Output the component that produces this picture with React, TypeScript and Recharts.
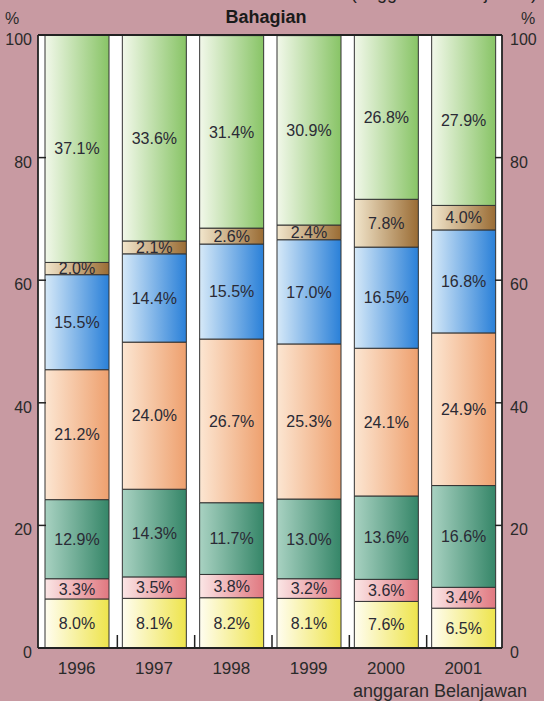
import React from 'react';
import { BarChart, Bar, XAxis, YAxis, LabelList, CartesianGrid, ReferenceLine } from 'recharts';

const years = ['1996', '1997', '1998', '1999', '2000', '2001'];
const yellowSeg = [8.0, 8.1, 8.2, 8.1, 7.6, 6.5];
const pinkSeg = [3.3, 3.5, 3.8, 3.2, 3.6, 3.4];
const tealSeg = [12.9, 14.3, 11.7, 13.0, 13.6, 16.6];
const peachSeg = [21.2, 24.0, 26.7, 25.3, 24.1, 24.9];
const blueSeg = [15.5, 14.4, 15.5, 17.0, 16.5, 16.8];
const brownSeg = [2.0, 2.1, 2.6, 2.4, 7.8, 4.0];
const greenSeg = [37.1, 33.6, 31.4, 30.9, 26.8, 27.9];
const yTicks = [0, 20, 40, 60, 80, 100];

const series = [
  { key: 's1', values: yellowSeg, light: '#fffdf0', dark: '#eee44c' },
  { key: 's2', values: pinkSeg, light: '#fbe6e6', dark: '#e07880' },
  { key: 's3', values: tealSeg, light: '#a9d2c2', dark: '#358668' },
  { key: 's4', values: peachSeg, light: '#fce6d2', dark: '#eea06e' },
  { key: 's5', values: blueSeg, light: '#d6e9f8', dark: '#2a80d8' },
  { key: 's6', values: brownSeg, light: '#f2e6cc', dark: '#9a6c34' },
  { key: 's7', values: greenSeg, light: '#f2f8ea', dark: '#88c466' },
];

const data = years.map((y, i) => {
  const row: any = { year: y };
  series.forEach((s) => { row[s.key] = s.values[i]; });
  return row;
});

const BG = '#c89aa2';
const INK = '#222';
const FONT = '"Liberation Sans", Arial, Helvetica, sans-serif';

const LeftTick = (props: any) => {
  const { x, y, payload } = props;
  const v = payload.value;
  return (
    <g>
      {v > 0 && v < 100 && <line x1={x} y1={y} x2={x + 8} y2={y} stroke={INK} strokeWidth={1.5} />}
      <text x={x - 6} y={y + 10} textAnchor="end" fontSize={16} fill="#2a2a2a" fontFamily={FONT}>{v}</text>
    </g>
  );
};

const RightTick = (props: any) => {
  const { x, y, payload } = props;
  const v = payload.value;
  return (
    <g>
      {v > 0 && v < 100 && <line x1={x - 7} y1={y} x2={x} y2={y} stroke={INK} strokeWidth={1.5} />}
      <text x={x + 8} y={y + 10} textAnchor="start" fontSize={16} fill="#2a2a2a" fontFamily={FONT}>{v}</text>
    </g>
  );
};

const XTick = (props: any) => {
  const { x, y, payload, index } = props;
  const half = 464 / 6 / 2;
  return (
    <g>
      {index < years.length - 1 && (
        <line x1={x + half + 2} y1={y - 13} x2={x + half + 2} y2={y} stroke={INK} strokeWidth={1.5} />
      )}
      <text x={x} y={y + 26} textAnchor="middle" fontSize={17} fill="#2a2a2a" fontFamily={FONT}>{payload.value}</text>
    </g>
  );
};

export default function App() {
  return (
    <div style={{ position: 'absolute', left: 0, top: 0, width: 544, height: 701, background: BG, overflow: 'hidden', fontFamily: FONT }}>
      <svg width={544} height={701} style={{ position: 'absolute', left: 0, top: 0 }}>
        <text x={537} y={-1} textAnchor="end" fontSize={18} fill="#222" fontFamily={FONT}>(anggaran Belanjawan)</text>
        <text x={12} y={24} textAnchor="middle" fontSize={16} fill="#2a2a2a" fontFamily={FONT}>%</text>
        <text x={528} y={24} textAnchor="middle" fontSize={16} fill="#2a2a2a" fontFamily={FONT}>%</text>
        <text x={266} y={23} textAnchor="middle" fontSize={18} fontWeight="bold" fill="#1a1a1a" fontFamily={FONT}>Bahagian</text>
        <text x={440} y={697} textAnchor="middle" fontSize={18} fill="#2a2a2a" fontFamily={FONT}>anggaran Belanjawan</text>
      </svg>
      <div style={{ position: 'absolute', left: 0, top: 0 }}>
        <BarChart width={544} height={701} data={data} margin={{ top: 35, right: 0, bottom: 0, left: 0 }} barSize={64}>
          <defs>
            {series.map((s) => (
              <linearGradient key={s.key} id={`g-${s.key}`} x1="0" y1="0" x2="1" y2="0">
                <stop offset="0%" stopColor={s.light} />
                <stop offset="100%" stopColor={s.dark} />
              </linearGradient>
            ))}
          </defs>
          <CartesianGrid yAxisId="left" horizontal={false} vertical={false} fill="#ffffff" fillOpacity={1} />
          <XAxis dataKey="year" height={53} interval={0} tickLine={false} tickSize={0} tickMargin={0}
            axisLine={{ stroke: INK, strokeWidth: 1.8 }} tick={<XTick />} />
          <YAxis yAxisId="left" orientation="left" width={38} domain={[0, 100]} ticks={yTicks} allowDataOverflow
            tickLine={false} tickSize={0} tickMargin={0} axisLine={{ stroke: INK, strokeWidth: 1.8 }} tick={<LeftTick />} />
          <YAxis yAxisId="right" orientation="right" width={42} domain={[0, 100]} ticks={yTicks} allowDataOverflow
            tickLine={false} tickSize={0} tickMargin={0} axisLine={{ stroke: INK, strokeWidth: 1.8 }} tick={<RightTick />} />
          {series.map((s) => (
            <Bar key={s.key} dataKey={s.key} yAxisId="left" stackId="a" fill={`url(#g-${s.key})`}
              stroke="#333" strokeWidth={1} isAnimationActive={false}>
              <LabelList dataKey={s.key} position="center" fontSize={16} fill="#2a2a35"
                formatter={(v: any) => `${Number(v).toFixed(1)}%`} />
            </Bar>
          ))}
          <ReferenceLine yAxisId="left" y={100} stroke={INK} strokeWidth={1.8} ifOverflow="extendDomain" />
        </BarChart>
      </div>
    </div>
  );
}
